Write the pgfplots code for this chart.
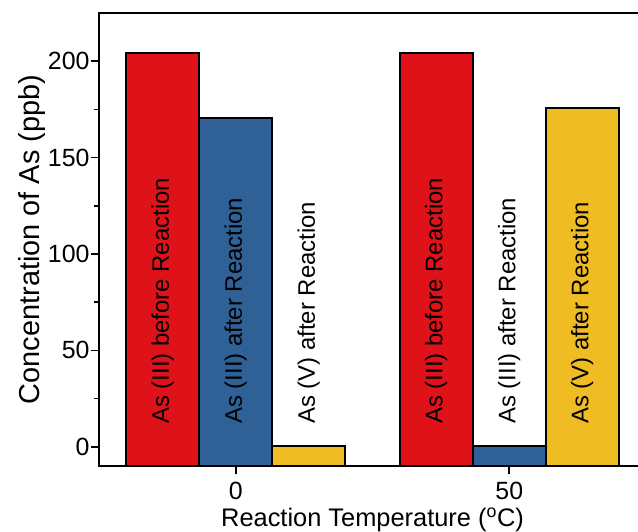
\documentclass[border=0pt]{standalone}
\usepackage{fontspec}
\setmainfont{Liberation Sans}
\usepackage{pgfplots}
\pgfplotsset{compat=1.18}
\definecolor{cred}{RGB}{222,18,24}
\definecolor{cblue}{RGB}{47,96,150}
\definecolor{cyellow}{RGB}{240,188,36}
\begin{document}
\begin{tikzpicture}
\begin{axis}[
  scale only axis, width=547bp, height=453bp,
  at={(0,0)}, anchor=south west,
  xmin=-25, xmax=75, ymin=-10, ymax=225,
  y coord trafo/.code={\pgfmathparse{#1+10}},
  y coord inv trafo/.code={\pgfmathparse{#1-10}},
  ybar=0pt, bar width=73bp,
  xtick={0,50}, ytick={0,50,100,150,200},
  minor y tick num=1,
  xtick pos=bottom, ytick pos=left,
  tick align=outside,
  major tick length=8bp, minor tick length=5bp,
  every tick/.style={black, line width=1.6bp},
  axis line style={line width=2bp},
  ticklabel style={font=\fontsize{25}{30}\selectfont},
  xticklabel style={inner sep=0pt, yshift=-8bp},
  yticklabel style={xshift=2bp},
  /pgf/number format/assume math mode=true,
  xlabel={Reaction Temperature (\textsuperscript{o}C)},
  ylabel={Concentration of As (ppb)},
  xlabel style={font=\fontsize{25.5}{30}\selectfont, inner sep=0pt, yshift=-8bp},
  ylabel style={font=\fontsize{29}{34}\selectfont, yshift=-4bp},
]
\addplot[fill=cred, draw=black, line width=2bp, bar shift=-73bp] coordinates {(0,204) (50,204.2)};
\addplot[fill=cblue, draw=black, line width=2bp, bar shift=0bp] coordinates {(0,170.3) (50,0.5)};
\addplot[fill=cyellow, draw=black, line width=2bp, bar shift=73bp] coordinates {(0,0.5) (50,175.5)};
\tikzset{inbar/.style={rotate=90, anchor=west, inner sep=0pt, font=\fontsize{24}{28}\selectfont}}
\node[inbar] at ([xshift=-73bp]axis cs:0,11.8) {As (III) before Reaction};
\node[inbar] at (axis cs:0,11.8) {As (III) after Reaction};
\node[inbar] at ([xshift=73bp]axis cs:0,11.8) {As (V) after Reaction};
\node[inbar] at ([xshift=-73bp]axis cs:50,11.8) {As (III) before Reaction};
\node[inbar] at (axis cs:50,11.8) {As (III) after Reaction};
\node[inbar] at ([xshift=73bp]axis cs:50,11.8) {As (V) after Reaction};
\end{axis}
\pgfresetboundingbox
\useasboundingbox (-99bp,-66bp) rectangle (539bp,466bp);
\end{tikzpicture}
\end{document}
